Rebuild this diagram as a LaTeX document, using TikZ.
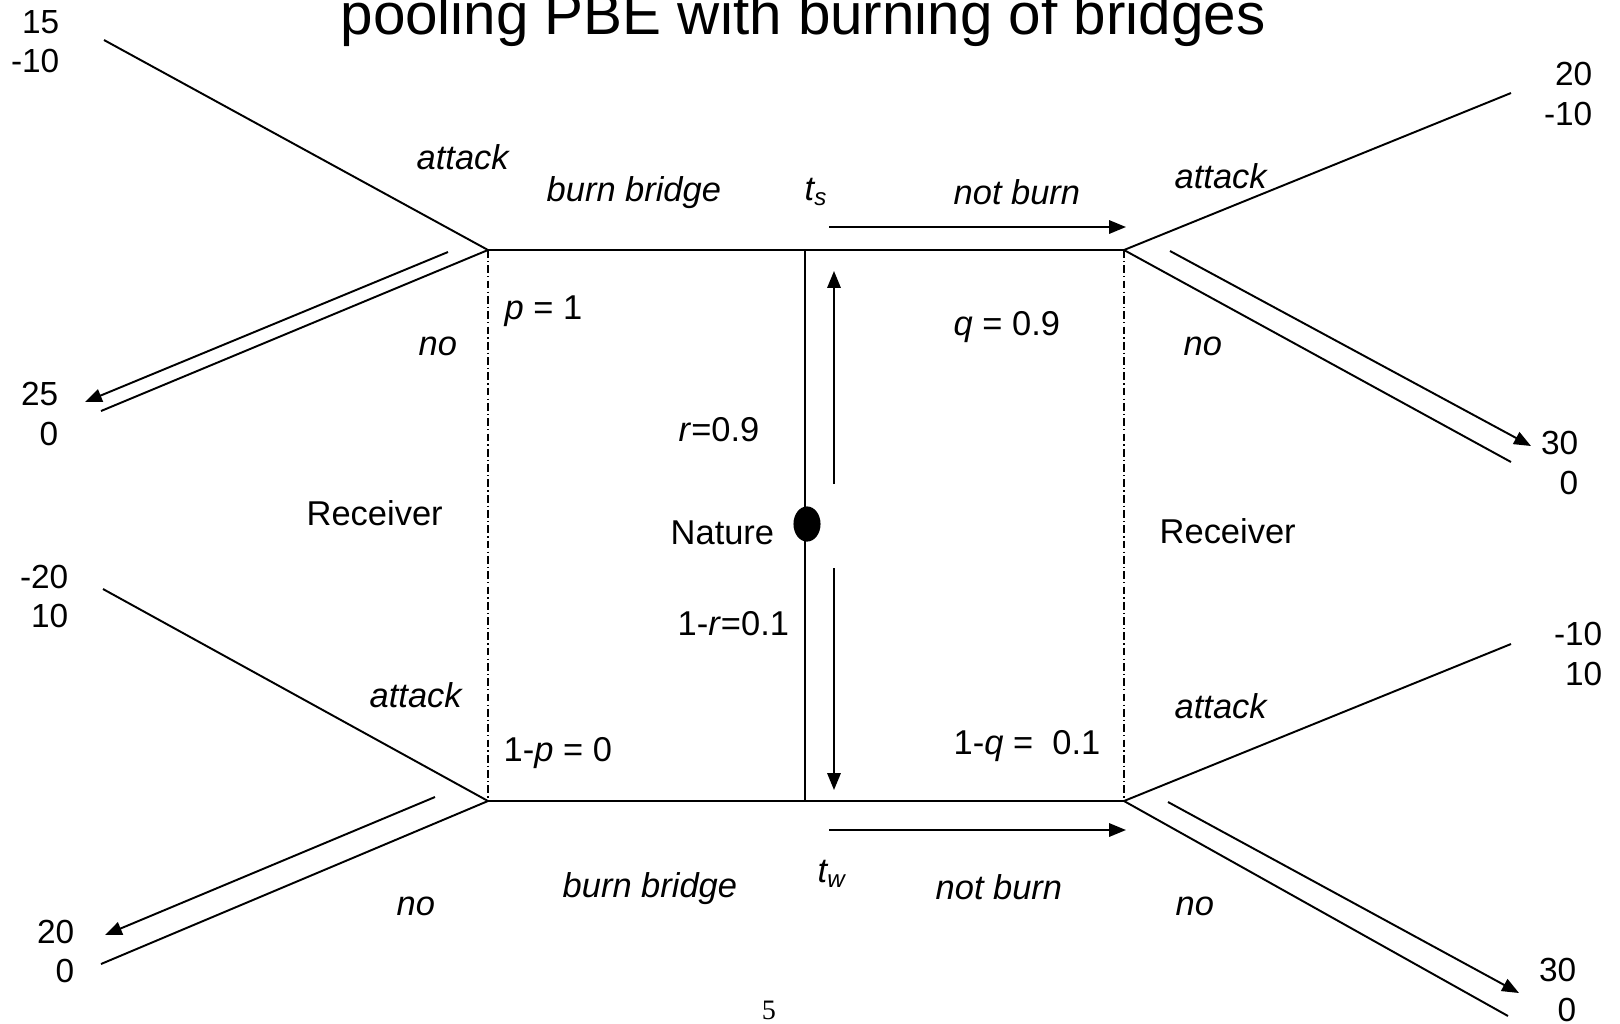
\documentclass[tikz,border=0pt]{standalone}
\usepackage{fontspec}
\setmainfont{Liberation Sans}
\newfontfamily\pagefont{Liberation Serif}
\usetikzlibrary{arrows.meta,shapes.geometric}
\begin{document}
\begin{tikzpicture}[x=0.01cm,y=-0.01cm,
  edge/.style={line width=0.55pt},
  eqarrow/.style={line width=0.55pt,-{Triangle[length=4.8pt,width=3.8pt]}},
  infoset/.style={line width=0.45pt,dash pattern=on 2.2pt off 0.9pt on 0.35pt off 0.9pt},
  lbl/.style={inner sep=0pt,anchor=west,font=\fontsize{9.8}{11}\selectfont\itshape},
  txt/.style={inner sep=0pt,anchor=west,font=\fontsize{9.8}{11}\selectfont},
  pay/.style={inner sep=0pt,anchor=east,align=right,font=\fontsize{9.5}{11.1}\selectfont},
]
\path[use as bounding box] (0,0) rectangle (1620,1023);
\clip (0,0) rectangle (1620,1023);

% decision nodes
\coordinate (LT) at (488,250);
\coordinate (LB) at (488,801);
\coordinate (RT) at (1124,250);
\coordinate (RB) at (1124,801);
\coordinate (CT) at (805,250);
\coordinate (CB) at (805,801);
\node (nat) [ellipse, fill=black, minimum width=7.7pt, minimum height=10pt, inner sep=0pt] at (807,524) {};

% branch ends
\coordinate (LTa) at (104,40);
\coordinate (LTn) at (101,411);
\coordinate (LTs) at (448,252);
\coordinate (LTe) at (85,402);
\coordinate (LBa) at (103,589);
\coordinate (LBn) at (101,964);
\coordinate (LBs) at (435,797);
\coordinate (LBe) at (105,935);
\coordinate (RTa) at (1511,93);
\coordinate (RTn) at (1511,462);
\coordinate (RTs) at (1170,251);
\coordinate (RTe) at (1531,446);
\coordinate (RBa) at (1511,644);
\coordinate (RBn) at (1508,1016);
\coordinate (RBs) at (1168,802);
\coordinate (RBe) at (1519,993);
\coordinate (HTs) at (829,227);
\coordinate (HTe) at (1126,227);
\coordinate (HBs) at (829,830);
\coordinate (HBe) at (1126,830);
\coordinate (VUs) at (834,484);
\coordinate (VUe) at (834,271);
\coordinate (VDs) at (834,568);
\coordinate (VDe) at (834,790);

% tree lines
\draw[edge] (LT) -- (RT);
\draw[edge] (LB) -- (RB);
\draw[edge] (CT) -- (CB);
\draw[infoset] (LT) -- (LB);
\draw[infoset] (RT) -- (RB);
\draw[edge] (LT) -- (LTa);
\draw[edge] (LT) -- (LTn);
\draw[edge] (LB) -- (LBa);
\draw[edge] (LB) -- (LBn);
\draw[edge] (RT) -- (RTa);
\draw[edge] (RT) -- (RTn);
\draw[edge] (RB) -- (RBa);
\draw[edge] (RB) -- (RBn);

% equilibrium arrows
\draw[eqarrow] (LTs) -- (LTe);
\draw[eqarrow] (LBs) -- (LBe);
\draw[eqarrow] (RTs) -- (RTe);
\draw[eqarrow] (RBs) -- (RBe);
\draw[eqarrow] (HTs) -- (HTe);
\draw[eqarrow] (HBs) -- (HBe);
\draw[eqarrow] (VUs) -- (VUe);
\draw[eqarrow] (VDs) -- (VDe);

% title and page number
\node (title) [anchor=base, inner sep=0pt, font=\fontsize{16.6}{18}\selectfont] at (803,34) {pooling PBE with burning of bridges};
\node (pg) [inner sep=0pt, font=\pagefont\fontsize{8}{9}\selectfont] at (769,1010) {5};

% payoffs
\node (p1) [pay] at (60,42) {15\\-10};
\node (p2) [pay] at (59,414) {25\\0};
\node (p3) [pay] at (69,596) {-20\\10};
\node (p4) [pay] at (75,951) {20\\0};
\node (p5) [pay] at (1593,94) {20\\-10};
\node (p6) [pay] at (1579,463) {30\\0};
\node (p7) [pay] at (1603,654) {-10\\10};
\node (p8) [pay] at (1577,990) {30\\0};

% action labels
\node (a1) [lbl] at (416,157) {attack};
\node (a2) [lbl] at (1174,176) {attack};
\node (a3) [lbl] at (369,695) {attack};
\node (a4) [lbl] at (1174,706) {attack};
\node (n1) [lbl] at (418,346) {no};
\node (n2) [lbl] at (1183,346) {no};
\node (n3) [lbl] at (396,906) {no};
\node (n4) [lbl] at (1175,906) {no};
\node (bb1) [lbl] at (546,193) {burn bridge};
\node (bb2) [lbl] at (562,889) {burn bridge};
\node (nb1) [lbl] at (953,192) {not burn};
\node (nb2) [lbl] at (935,887) {not burn};
\node (ts) [lbl] at (804,192) {t\textsubscript{s}};
\node (tw) [lbl] at (817,874) {t\textsubscript{w}};

% players and beliefs
\node (rec1) [txt] at (306,513) {Receiver};
\node (rec2) [txt] at (1159,531) {Receiver};
\node (natl) [txt] at (670,533) {Nature};
\node (bp) [txt] at (504,311) {\textit{p} = 1};
\node (bp2) [txt] at (503,753) {1-\textit{p} = 0};
\node (bq) [txt] at (953,327) {\textit{q} = 0.9};
\node (bq2) [txt] at (953,746) {1-\textit{q} =\ \ 0.1};
\node (pr) [txt] at (678,430) {\textit{r}=0.9};
\node (pr2) [txt] at (677,624) {1-\textit{r}=0.1};
\end{tikzpicture}
\end{document}
